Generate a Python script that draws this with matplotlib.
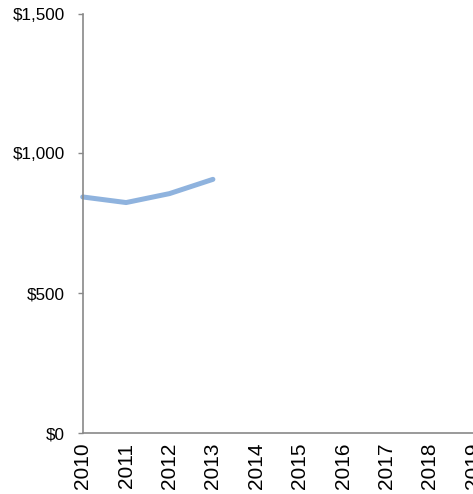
import matplotlib
matplotlib.use("Agg")
import matplotlib.pyplot as plt
from matplotlib.ticker import FuncFormatter

years = ["2010", "2011", "2012", "2013", "2014", "2015", "2016", "2017", "2018", "2019"]
values = [844, 824, 856, 907]
yticks = [0, 500, 1000, 1500]

plt.rcParams['font.family'] = ['Liberation Sans', 'DejaVu Sans']

fig = plt.figure(figsize=(4.73, 4.94), dpi=100)
ax = fig.add_axes([82.7 / 473, (494 - 433) / 494, (473.3 - 82.7) / 473, (433 - 13.5) / 494])

x = list(range(len(years)))
ax.plot(x[:len(values)], values, color="#8FB3DE", linewidth=3.6, solid_capstyle="round", clip_on=False)

ax.set_xlim(0, len(years) - 1)
ax.set_ylim(0, 1500)
ax.set_yticks(yticks)
ax.yaxis.set_major_formatter(FuncFormatter(lambda v, p: "${:,.0f}".format(v)))
ax.set_xticks(x)
ax.set_xticklabels(years, rotation=90, fontsize=15)
ax.tick_params(axis="x", length=0, pad=7)
ax.tick_params(axis="y", length=3.6, width=1, color="#898989", pad=9.4, labelsize=12.3)

for s in ["top", "right"]:
    ax.spines[s].set_visible(False)
for s in ["left", "bottom"]:
    ax.spines[s].set_color("#898989")
    ax.spines[s].set_linewidth(1.2)

fig.savefig("out.png", dpi=100)
